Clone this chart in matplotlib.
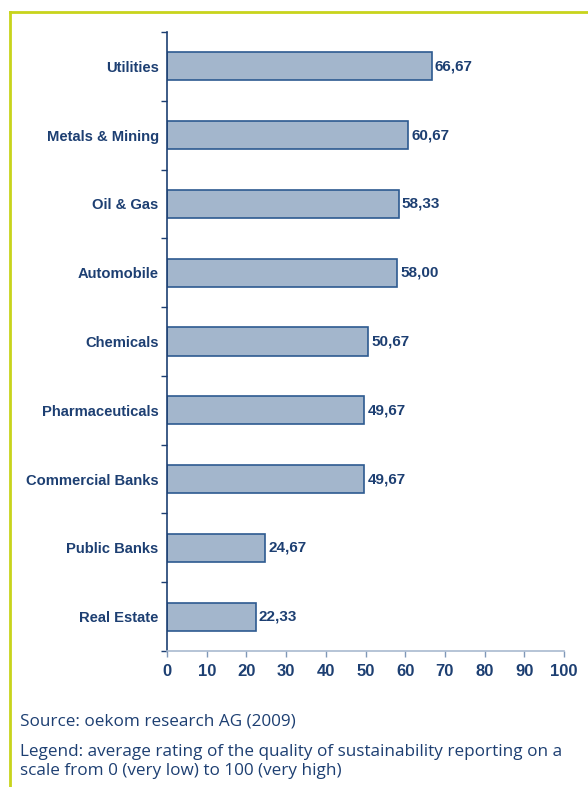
import matplotlib
matplotlib.use('Agg')
import matplotlib.pyplot as plt
from matplotlib.lines import Line2D

SECTORS = ['Utilities', 'Metals & Mining', 'Oil & Gas', 'Automobile', 'Chemicals',
           'Pharmaceuticals', 'Commercial Banks', 'Public Banks', 'Real Estate']
RATINGS = [66.67, 60.67, 58.33, 58.00, 50.67, 49.67, 49.67, 24.67, 22.33]
X_TICKS = [0, 10, 20, 30, 40, 50, 60, 70, 80, 90, 100]

NAVY = '#1d3f72'
BAR_FILL = '#a3b6cc'
BAR_EDGE = '#2d5a90'
FRAME = '#c8d41c'

W, H = 588, 787
fig = plt.figure(figsize=(W / 100, H / 100), dpi=100)

# axes in pixel coordinates of the reference
left, right, top, bottom = 167, 564, 32, 651
ax = fig.add_axes([left / W, 1 - bottom / H, (right - left) / W, (bottom - top) / H])

ys = list(range(len(SECTORS)))
bars = ax.barh(ys, RATINGS, height=0.41, color=BAR_FILL, edgecolor=BAR_EDGE, linewidth=1.2)

for bar, value in zip(bars, RATINGS):
    label = f'{value:.2f}'.replace('.', ',')
    ax.text(bar.get_width() + 0.8, bar.get_y() + bar.get_height() / 2, label,
            ha='left', va='center', fontsize=11, fontweight='bold', color=NAVY,
            family='Liberation Sans')

ax.set_ylim(len(SECTORS) - 0.5, -0.5)
ax.set_xlim(0, 100)
ax.set_yticks([y - 0.5 for y in range(len(SECTORS) + 1)], minor=False)
ax.set_yticklabels([])
ax.set_yticks(ys, minor=True)
ax.set_yticklabels(SECTORS, minor=True, fontsize=10.6, fontweight='bold', color=NAVY,
                   family='Liberation Sans')
ax.tick_params(axis='y', which='minor', length=0, pad=6)
ax.tick_params(axis='y', which='major', length=4, width=1, color=NAVY)

ax.set_xticks(X_TICKS)
ax.set_xticklabels([str(x) for x in X_TICKS], fontsize=12, fontweight='bold', color=NAVY,
                   family='Liberation Sans')
ax.tick_params(axis='x', length=4, width=1, color='#7f98b8', pad=5)

for side in ['top', 'right']:
    ax.spines[side].set_visible(False)
ax.spines['left'].set_color(NAVY)
ax.spines['left'].set_linewidth(1.2)
ax.spines['bottom'].set_color('#a9bad0')
ax.spines['bottom'].set_linewidth(1.2)

# yellow-green frame on left and top
fig.add_artist(Line2D([10 / W, 10 / W], [0, 1 - 12 / H], color=FRAME, linewidth=2,
                      transform=fig.transFigure))
fig.add_artist(Line2D([10 / W, 1], [1 - 12 / H, 1 - 12 / H], color=FRAME, linewidth=2,
                      transform=fig.transFigure))

note_font = dict(fontsize=12.3, color=NAVY, family='Open Sans', ha='left', va='center')
fig.text(20 / W, 1 - 721 / H, 'Source: oekom research AG (2009)', **note_font)
fig.text(20 / W, 1 - 752 / H,
         'Legend: average rating of the quality of sustainability reporting on a', **note_font)
fig.text(20 / W, 1 - 771 / H, 'scale from 0 (very low) to 100 (very high)', **note_font)

fig.savefig('out.png', dpi=100)
